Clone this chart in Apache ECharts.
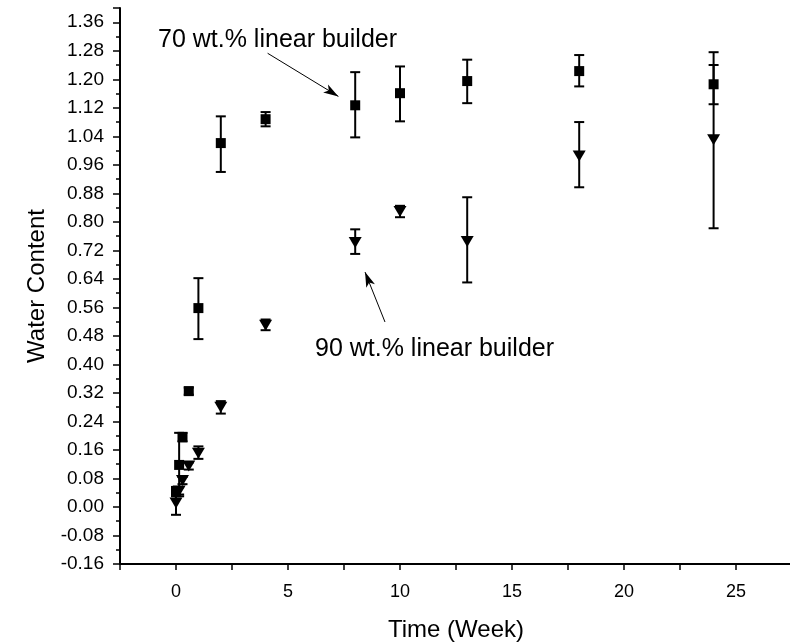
<!DOCTYPE html>
<html>
<head>
<meta charset="utf-8">
<script src="https://cdn.jsdelivr.net/npm/echarts@6/dist/echarts.min.js"></script>
<style>
  html, body { margin: 0; padding: 0; background: #fff; }
  #chart { width: 790px; height: 643px; }
</style>
</head>
<body>
<div id="chart"></div>
<script>
// 70 wt.% linear builder (squares)
var weeks70 = [0, 0.14, 0.29, 0.57, 1, 2, 4, 8, 10, 13, 18, 24];
var water70 = [0.045, 0.118, 0.196, 0.325, 0.558, 1.021, 1.088, 1.127, 1.161, 1.195, 1.223, 1.186];
var low70   = [0.035, 0.030, 0.184, 0.315, 0.471, 0.940, 1.068, 1.037, 1.082, 1.133, 1.180, 1.130];
var high70  = [0.055, 0.208, 0.208, 0.335, 0.642, 1.096, 1.108, 1.220, 1.236, 1.255, 1.268, 1.276];

// 90 wt.% linear builder (down triangles)
var weeks90 = [0, 0.14, 0.29, 0.57, 1, 2, 4, 8, 10, 13, 18, 24];
var water90 = [0.011, 0.045, 0.074, 0.115, 0.151, 0.280, 0.510, 0.742, 0.829, 0.745, 0.985, 1.030];
var low90   = [-0.022, 0.035, 0.064, 0.105, 0.135, 0.262, 0.496, 0.710, 0.813, 0.630, 0.897, 0.782];
var high90  = [0.030, 0.055, 0.084, 0.125, 0.170, 0.297, 0.526, 0.779, 0.845, 0.869, 1.080, 1.240];

var yTicks = { min: -0.16, max: 1.40, interval: 0.08 };
var xTicks = { min: -2.5, max: 27.5, interval: 2.5 };

var chart = echarts.init(document.getElementById('chart'));

function pairs(xs, ys) {
    return xs.map(function (x, i) { return [x, ys[i]]; });
}

//误差线
function errorBars(xs, lo, hi) {
    return {
        type: 'custom',
        silent: true,
        z: 1,
        encode: { x: 0, y: [1, 2] },
        renderItem: function (params, api) {
            var x = api.value(0);
            var a = api.coord([x, api.value(1)]);
            var b = api.coord([x, api.value(2)]);
            var w = 5;
            var st = { stroke: '#000', lineWidth: 2 };
            return {
                type: 'group',
                children: [
                    { type: 'line', shape: { x1: a[0], y1: a[1], x2: b[0], y2: b[1] }, style: st },
                    { type: 'line', shape: { x1: a[0] - w, y1: a[1], x2: a[0] + w, y2: a[1] }, style: st },
                    { type: 'line', shape: { x1: b[0] - w, y1: b[1], x2: b[0] + w, y2: b[1] }, style: st }
                ]
            };
        },
        data: xs.map(function (x, i) { return [x, lo[i], hi[i]]; })
    };
}

var arrowLine = {
    silent: true,
    symbol: ['none', 'arrow'],
    symbolSize: [7, 15],
    label: { show: false },
    lineStyle: { color: '#000', width: 1, type: 'solid', opacity: 1 },
    animation: false
};

var option = {
    animation: false,
    grid: { left: 120, right: -2, top: 8, bottom: 79, outerBoundsMode: 'none' },
    xAxis: {
        type: 'value',
        min: xTicks.min,
        max: xTicks.max,
        interval: xTicks.interval,
        name: 'Time (Week)',
        nameLocation: 'middle',
        nameGap: 54,
        nameTextStyle: { fontFamily: 'Liberation Sans', fontSize: 24, color: '#000' },
        axisLine: { onZero: false, lineStyle: { color: '#000', width: 2 } },
        axisTick: { length: 6, lineStyle: { color: '#000', width: 1.5 } },
        axisLabel: {
            margin: 19,
            fontFamily: 'Liberation Sans', fontSize: 18, color: '#000',
            formatter: function (v) { return Math.abs(v % 5) < 1e-6 ? String(v) : ''; }
        },
        splitLine: { show: false }
    },
    yAxis: {
        type: 'value',
        min: yTicks.min,
        max: yTicks.max,
        interval: yTicks.interval,
        name: 'Water Content',
        nameLocation: 'middle',
        nameGap: 38,
        nameTextStyle: { fontFamily: 'Liberation Sans', fontSize: 24, color: '#000' },
        axisLine: { onZero: false, lineStyle: { color: '#000', width: 2 } },
        axisTick: { length: 7, lineStyle: { color: '#000', width: 1.5 } },
        minorTick: { show: true, splitNumber: 2, length: 4, lineStyle: { color: '#000', width: 1.5 } },
        axisLabel: {
            margin: 16,
            showMaxLabel: false,
            fontFamily: 'Liberation Sans', fontSize: 19, color: '#000',
            formatter: function (v) { return v.toFixed(2); }
        },
        splitLine: { show: false }
    },
    graphic: [
        { type: 'text', left: 158, top: 28, style: { text: '70 wt.% linear builder', font: '25px "Liberation Sans"', fill: '#000' } },
        { type: 'text', left: 315, top: 337, style: { text: '90 wt.% linear builder', font: '25px "Liberation Sans"', fill: '#000' } }
    ],
    series: [
        errorBars(weeks70, low70, high70),
        errorBars(weeks90, low90, high90),
        {
            type: 'scatter',
            z: 3,
            symbol: 'rect',
            symbolSize: 10,
            itemStyle: { color: '#000', opacity: 1 },
            data: pairs(weeks70, water70),
            markLine: Object.assign({ data: [[{ coord: [4.09, 1.273] }, { coord: [7.25, 1.152] }]] }, arrowLine)
        },
        {
            type: 'scatter',
            z: 3,
            symbol: 'triangle',
            symbolRotate: 180,
            symbolSize: [13, 11],
            itemStyle: { color: '#000', opacity: 1 },
            data: pairs(weeks90, water90),
            markLine: Object.assign({ data: [[{ coord: [9.33, 0.519] }, { coord: [8.44, 0.659] }]] }, arrowLine)
        }
    ]
};

chart.setOption(option);
</script>
</body>
</html>
